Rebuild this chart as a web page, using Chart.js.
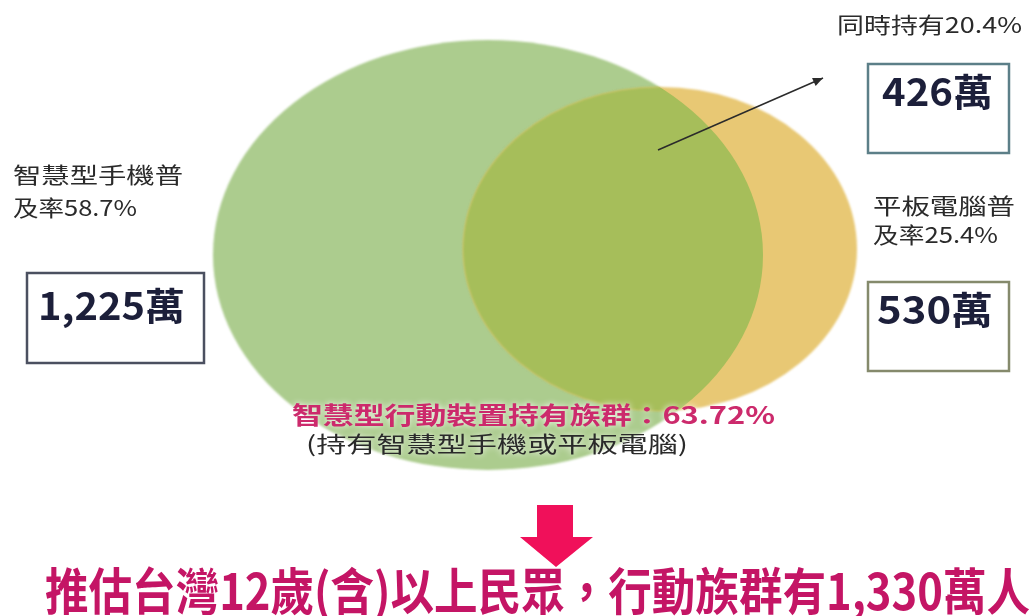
<!DOCTYPE html>
<html>
<head>
<meta charset="utf-8">
<script src="https://cdn.jsdelivr.net/npm/chart.js@4/dist/chart.umd.min.js"></script>
<style>
  html, body { margin: 0; padding: 0; background: #fff; }
  #wrap { width: 1034px; height: 616px; }
</style>
</head>
<body>
<div id="wrap"><canvas id="venn" width="1034" height="616"></canvas></div>
<script>
// values
const groupNames = ["智慧型手機", "平板電腦"];
const groupRates = [58.7, 25.4];      // %
const groupCounts = [1225, 530];      // 萬
const bothRate = 20.4;
const bothCount = 426;
const mobileRate = 63.72;
const mobileCount = 1330;

// layout only (canvas units, y downwards)
const shapes = [
    { cx: 488, cy: 255, rx: 275, ry: 215, color: "#accc8e" },
    { cx: 660, cy: 249, rx: 197, ry: 162, color: "#e8c874" }
];
const overlapColor = "#a6be5a";
const pointer = [{ x: 658, y: 150 }, { x: 823, y: 78 }];
const FONT = "'Noto Sans CJK TC', 'Noto Sans', sans-serif";

const fmt = n => n.toLocaleString("en-US");

function ellipsePath(ctx, chart, s) {
    const xs = chart.scales.x, ys = chart.scales.y;
    const px = xs.getPixelForValue(s.cx), py = ys.getPixelForValue(s.cy);
    const rx = Math.abs(xs.getPixelForValue(s.cx + s.rx) - px);
    const ry = Math.abs(ys.getPixelForValue(s.cy + s.ry) - py);
    ctx.beginPath();
    ctx.ellipse(px, py, rx, ry, 0, 0, Math.PI * 2);
}

function fitText(ctx, text, left, cy, width, font, color, glow) {
    ctx.save();
    ctx.font = font;
    ctx.textBaseline = "middle";
    ctx.textAlign = "left";
    const w = ctx.measureText(text).width;
    ctx.translate(left, cy);
    ctx.scale(width / w, 1);
    if (glow) {
        ctx.shadowColor = "rgba(255,255,255,0.95)";
        ctx.shadowBlur = 6;
    }
    ctx.fillStyle = color;
    ctx.fillText(text, 0, 0);
    ctx.restore();
}

function box(ctx, x, y, w, h, color) {
    ctx.save();
    ctx.strokeStyle = color;
    ctx.lineWidth = 2.5;
    ctx.strokeRect(x, y, w, h);
    ctx.restore();
}

const vennPlugin = {
    id: "venn",
    beforeDatasetsDraw(chart) {
        const ctx = chart.ctx;
        ctx.save();
        ctx.filter = "blur(1px)";
        shapes.forEach(s => {
            ellipsePath(ctx, chart, s);
            ctx.fillStyle = s.color;
            ctx.fill();
        });
        // overlap = both groups
        ellipsePath(ctx, chart, shapes[0]);
        ctx.clip();
        ellipsePath(ctx, chart, shapes[1]);
        ctx.fillStyle = overlapColor;
        ctx.fill();
        ctx.restore();
    },
    afterDatasetsDraw(chart) {
        const ctx = chart.ctx;
        // arrow head on the pointer line
        const pts = chart.getDatasetMeta(2).data;
        const a = pts[0], b = pts[1];
        const ang = Math.atan2(b.y - a.y, b.x - a.x);
        ctx.save();
        ctx.fillStyle = "#2b2b2b";
        ctx.translate(b.x, b.y);
        ctx.rotate(ang);
        ctx.beginPath();
        ctx.moveTo(0, 0);
        ctx.lineTo(-10, -4.5);
        ctx.lineTo(-10, 4.5);
        ctx.closePath();
        ctx.fill();
        ctx.restore();
    },
    afterDraw(chart) {
        const ctx = chart.ctx;
        const dark = "#2a2a2a";
        const num = "#1c1f3a";

        fitText(ctx, "同時持有" + bothRate + "%", 837, 25, 185, "22px " + FONT, dark);
        box(ctx, 868, 64, 141, 89, "#5c7f88");
        fitText(ctx, bothCount + "萬", 882, 92, 111, "bold 38px " + FONT, num);

        fitText(ctx, groupNames[0] + "普", 13, 175, 170, "22px " + FONT, dark);
        fitText(ctx, "及率" + groupRates[0] + "%", 13, 208, 124, "22px " + FONT, dark);
        box(ctx, 27, 273, 177, 90, "#4b5060");
        fitText(ctx, fmt(groupCounts[0]) + "萬", 38, 306, 147, "bold 38px " + FONT, num);

        fitText(ctx, groupNames[1] + "普", 873, 206, 142, "22px " + FONT, dark);
        fitText(ctx, "及率" + groupRates[1] + "%", 873, 235, 125, "22px " + FONT, dark);
        box(ctx, 868, 282, 141, 89, "#858a6c");
        fitText(ctx, groupCounts[1] + "萬", 877, 310, 116, "bold 38px " + FONT, num);

        fitText(ctx, "智慧型行動裝置持有族群：" + mobileRate + "%", 292, 415, 483,
            "bold 24px " + FONT, "#cc2a6c", true);
        fitText(ctx, "(持有" + groupNames[0] + "或" + groupNames[1] + ")", 306, 444, 382,
            "22px " + FONT, dark, true);

        // down arrow
        ctx.save();
        ctx.fillStyle = "#f0105a";
        ctx.beginPath();
        ctx.moveTo(537, 505);
        ctx.lineTo(573, 505);
        ctx.lineTo(573, 537);
        ctx.lineTo(593, 537);
        ctx.lineTo(556, 567);
        ctx.lineTo(520, 537);
        ctx.lineTo(537, 537);
        ctx.closePath();
        ctx.fill();
        ctx.restore();

        fitText(ctx, "推估台灣12歲(含)以上民眾，行動族群有" + fmt(mobileCount) + "萬人",
            45, 591, 985, "bold 50px " + FONT, "#c41565");
    }
};

const ctx = document.getElementById("venn").getContext("2d");

new Chart(ctx, {
    type: "bubble",
    data: {
        datasets: [
            {
                label: groupNames[0],
                data: [{ x: shapes[0].cx, y: shapes[0].cy, r: 0 }],
                backgroundColor: "rgba(0,0,0,0)",
                borderWidth: 0
            },
            {
                label: groupNames[1],
                data: [{ x: shapes[1].cx, y: shapes[1].cy, r: 0 }],
                backgroundColor: "rgba(0,0,0,0)",
                borderWidth: 0
            },
            {
                type: "line",
                label: "同時持有",
                data: pointer,
                borderColor: "#2b2b2b",
                borderWidth: 1.5,
                pointRadius: 0,
                fill: false
            }
        ]
    },
    options: {
        responsive: false,
        animation: false,
        events: [],
        layout: { padding: 0 },
        plugins: {
            legend: { display: false },
            tooltip: { enabled: false }
        },
        scales: {
            x: { type: "linear", min: 0, max: 1034, display: false },
            y: { type: "linear", min: 0, max: 616, reverse: true, display: false }
        }
    },
    plugins: [vennPlugin]
});
</script>
</body>
</html>
